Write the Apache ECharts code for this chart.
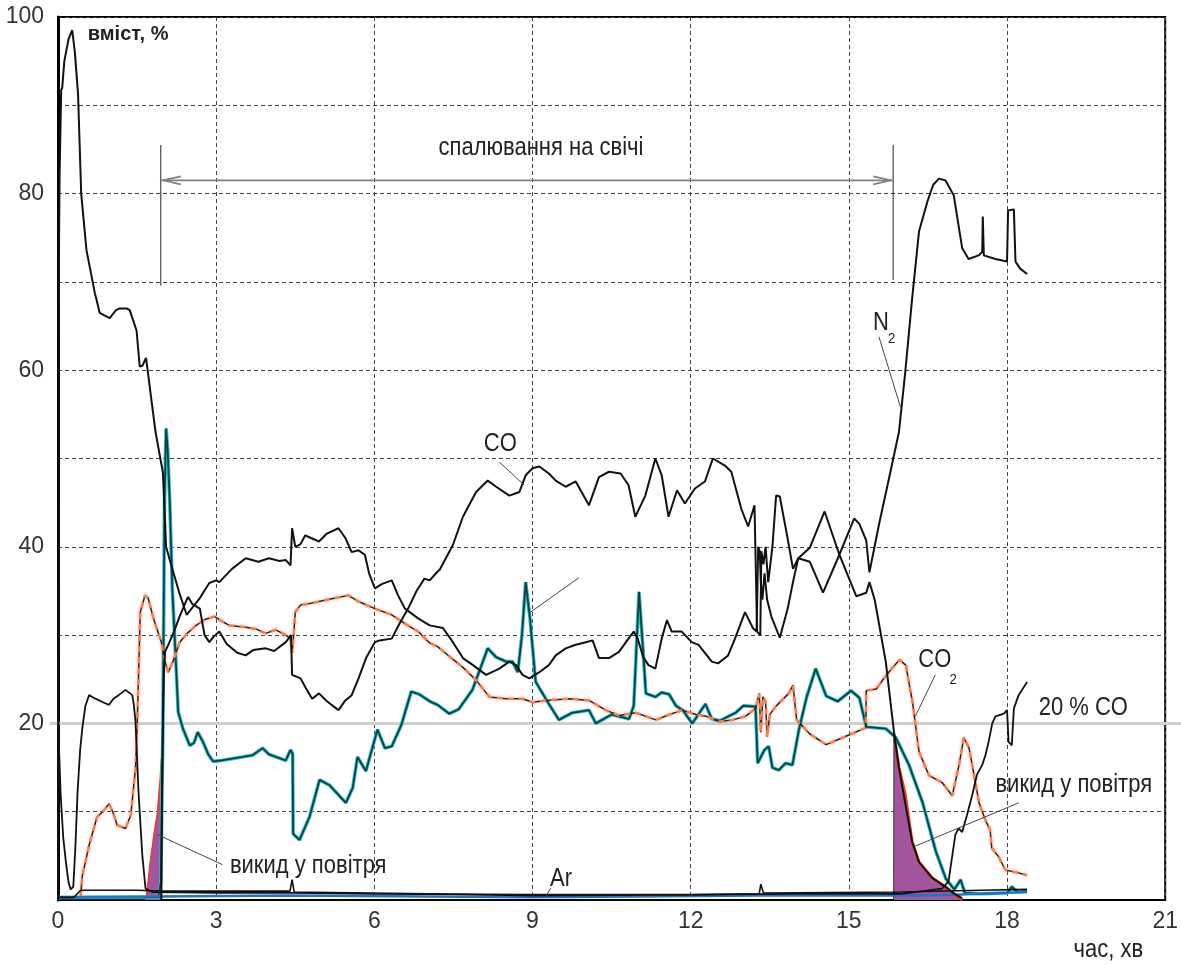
<!DOCTYPE html>
<html><head><meta charset="utf-8">
<script src="https://cdn.jsdelivr.net/npm/echarts@6/dist/echarts.min.js"></script>
<style>html,body{margin:0;padding:0;background:#fff}#c{width:1181px;height:965px}</style>
</head><body><div id="c"></div>
<script>
// ---- axes ----
const xTicks = [0, 3, 6, 9, 12, 15, 18, 21];
const yTickLabels = [20, 40, 60, 80, 100];

// ---- series: [time, min ; content, %] ----
const N2 = [[0,0],[0.01,40],[0.02,75],[0.03,82],[0.06,91.7],[0.08,92],[0.12,95],[0.2,97.5],[0.27,98.5],[0.32,96],[0.38,91.3],[0.44,80],[0.54,73.6],[0.7,68.7],[0.73,68],[0.79,66.5],[0.98,65.9],[1.1,66.8],[1.17,67],[1.3,67],[1.36,66.8],[1.49,64.5],[1.55,60.4],[1.6,60.5],[1.67,61.4],[1.74,58.1],[1.85,53],[1.99,48.4],[2.05,40],[2.12,38.5],[2.3,34.8],[2.44,32.3],[2.69,34.2],[2.87,35.9],[3.0,36.2],[3.06,36],[3.3,37.5],[3.56,38.7],[3.8,38.3],[4.0,38.7],[4.2,38.4],[4.32,38.5],[4.41,37.9],[4.44,42.1],[4.5,40],[4.6,40.3],[4.69,41.3],[4.8,41],[4.95,40.6],[5.1,41.5],[5.32,42.1],[5.45,41],[5.57,39.4],[5.7,39.6],[5.82,39.1],[5.9,37],[6.01,35.3],[6.15,35.8],[6.33,36.2],[6.45,34.5],[6.58,33],[6.83,31.9],[7.05,31.1],[7.3,30.8],[7.49,29.2],[7.68,27.4],[7.87,26.6],[8.12,25.5],[8.37,26.2],[8.56,27],[8.69,26.6],[8.81,25.5],[8.94,25.1],[9.13,25.8],[9.31,26.6],[9.44,27.7],[9.63,28.5],[9.82,28.9],[10.01,29.2],[10.14,29.4],[10.26,27.4],[10.45,27.4],[10.64,28.1],[10.82,29.6],[10.92,30.4],[11.0,29.5],[11.1,27.5],[11.2,26.6],[11.33,26.2],[11.45,29.6],[11.55,31.7],[11.64,30.4],[11.83,30.4],[12.02,29.2],[12.15,28.9],[12.4,27],[12.52,26.8],[12.71,27.7],[12.84,29.6],[13.03,32.6],[13.18,30.8],[13.25,30.4],[13.28,40],[13.31,39.5],[13.33,36],[13.36,34],[13.4,37],[13.45,34],[13.53,32.1],[13.69,29.7],[13.84,33],[13.94,36],[14.04,38.7],[14.26,39.9],[14.54,44],[14.82,39.1],[15.1,43.2],[15.2,42.6],[15.33,40.7],[15.39,37.1],[15.57,42.5],[15.76,47.7],[15.95,53],[16.07,59.8],[16.17,66.2],[16.2,68.1],[16.33,75.7],[16.49,79.1],[16.6,81],[16.71,81.7],[16.83,81.5],[16.99,79.8],[17.08,76.4],[17.15,73.8],[17.27,72.6],[17.46,73],[17.53,73.4],[17.54,77.4],[17.56,73],[17.78,72.6],[18.0,72.3],[18.02,78.1],[18.13,78.2],[18.16,72.3],[18.25,71.5],[18.38,70.9]];

const CO = [[1.96,0],[1.97,10],[1.99,20],[2.01,26],[2.03,28.1],[2.1,29],[2.2,30.4],[2.3,32],[2.44,34],[2.47,34.3],[2.55,33.5],[2.69,33],[2.78,30],[2.87,29.2],[2.95,29.8],[3.06,30.4],[3.2,29],[3.4,28],[3.56,27.7],[3.7,28.3],[3.94,28.5],[4.1,28.2],[4.32,29.2],[4.42,30],[4.44,25.5],[4.6,25.1],[4.7,24],[4.82,22.8],[4.95,23.4],[5.1,22.5],[5.32,21.5],[5.45,22.6],[5.57,23.2],[5.7,25.1],[5.85,27.5],[6.01,29.2],[6.1,29.4],[6.33,29.6],[6.45,31],[6.64,33],[6.8,35],[6.95,36.4],[7.05,36.2],[7.2,37.2],[7.24,37.4],[7.49,40.2],[7.68,43.4],[7.93,46.2],[8.15,47.5],[8.31,46.8],[8.56,45.8],[8.75,46.2],[8.87,48.1],[9.0,48.9],[9.13,49.1],[9.31,48.3],[9.44,47.5],[9.63,46.8],[9.82,47.4],[10.07,44.7],[10.26,47.9],[10.45,48.5],[10.67,48.3],[10.82,47],[10.95,43.4],[11.14,45.8],[11.33,50],[11.45,48.1],[11.58,43.4],[11.74,46.4],[11.89,44.9],[12.08,46.6],[12.27,47.4],[12.42,50],[12.65,49.2],[12.77,48.5],[12.96,44.3],[13.09,42.3],[13.21,44.7],[13.23,44.5],[13.26,30.4],[13.32,30],[13.34,39.5],[13.38,38],[13.42,40],[13.47,36],[13.55,40],[13.62,45.8],[13.69,45.7],[13.84,40.9],[13.94,37.5],[14.04,38.7],[14.26,38.3],[14.51,34.8],[14.82,39.1],[15.14,34.4],[15.33,34.8],[15.39,36],[15.49,34],[15.7,27],[15.86,18.8],[15.95,15],[16.08,10.6],[16.2,6.6],[16.33,4.3],[16.58,2.5],[16.83,1.5],[17.0,0.7],[17.15,0.2]];

const CO2 = [[0.43,0.5],[0.46,2.7],[0.59,6.2],[0.74,9.4],[0.85,10],[0.97,10.9],[1.05,9.8],[1.12,8.5],[1.28,8.1],[1.38,9.6],[1.47,14.9],[1.5,19.4],[1.56,32.6],[1.65,34.5],[1.71,34.2],[1.81,31.9],[1.96,29.2],[2.03,27],[2.09,25.8],[2.18,27],[2.31,29.2],[2.45,30.2],[2.62,31.1],[2.8,31.8],[2.97,32.1],[3.1,31.6],[3.25,31.1],[3.56,30.9],[3.75,30.7],[3.94,30.2],[4.13,30.6],[4.32,30],[4.41,29.6],[4.44,28],[4.47,30],[4.5,32.6],[4.6,33.4],[4.8,33.6],[4.95,33.8],[5.1,34],[5.26,34.2],[5.51,34.5],[5.7,33.8],[6.01,33],[6.33,32.3],[6.58,31.3],[6.83,30.4],[7.05,29.1],[7.2,28.7],[7.42,27.6],[7.67,26.4],[7.93,24.9],[8.18,23],[8.5,22.8],[8.81,22.8],[9.0,22.4],[9.25,22.6],[9.7,22.8],[10.07,22.6],[10.39,21.5],[10.64,20.9],[10.96,21.2],[11.34,20.4],[11.6,21],[11.84,21.5],[12.1,21],[12.3,20.8],[12.54,20.2],[12.8,20.4],[13.04,20.8],[13.23,21.7],[13.3,23.4],[13.33,19],[13.37,23],[13.42,22.5],[13.45,18.5],[13.5,21],[13.61,21.9],[13.86,23.4],[13.94,24.3],[14.01,20.4],[14.26,18.8],[14.57,17.6],[14.89,18.4],[15.2,19.2],[15.32,19.5],[15.33,23.7],[15.52,23.9],[15.7,25.4],[15.96,27.2],[16.08,26.6],[16.21,22.3],[16.33,16.8],[16.52,14.1],[16.77,13.3],[16.96,11.8],[17.09,15.3],[17.18,18.4],[17.28,17.2],[17.4,13.3],[17.47,11],[17.6,8.9],[17.68,7.9],[17.71,5.9],[17.84,4.9],[17.97,3.4],[18.2,3.1],[18.38,2.8]];

const H2 = [[0,0.3],[1.9,0.3],[1.95,2],[1.99,20],[2.02,45],[2.05,53.4],[2.08,51],[2.12,45.1],[2.17,35],[2.22,28.9],[2.28,21.3],[2.37,19.4],[2.5,17.5],[2.58,17.8],[2.65,19],[2.75,17.9],[2.85,16.5],[2.94,15.7],[3.1,15.8],[3.3,16],[3.5,16.2],[3.69,16.4],[3.88,17.2],[4.0,16.5],[4.32,15.8],[4.41,17],[4.45,16.6],[4.46,7.5],[4.58,6.8],[4.77,9.4],[4.96,13.6],[5.15,13],[5.46,11],[5.59,12.7],[5.68,16.2],[5.84,14.6],[6.06,19.3],[6.2,17.2],[6.33,17.4],[6.51,19.8],[6.7,23.6],[6.85,23.3],[7.05,22.5],[7.2,22.1],[7.42,21.1],[7.6,21.6],[7.86,23.8],[8.15,28.5],[8.31,27.5],[8.5,27],[8.62,27],[8.72,25.8],[8.8,30],[8.87,36],[8.95,32],[9.06,24.7],[9.25,22.8],[9.5,20.4],[9.75,21.2],[10.07,21.5],[10.2,20],[10.5,21],[10.83,20.5],[10.92,22],[11.02,34.9],[11.1,28],[11.15,23.4],[11.33,23],[11.45,23.5],[11.59,23.3],[11.72,22],[11.85,21.5],[12.03,20],[12.28,22.2],[12.4,20.5],[12.55,20.3],[12.85,21.2],[13.0,22],[13.23,21.9],[13.27,15.5],[13.4,17],[13.48,17.4],[13.55,15],[13.67,14.7],[13.8,15.5],[13.93,15.3],[14.05,19.2],[14.2,23],[14.37,26.2],[14.57,23.1],[14.79,22.5],[15.04,23.7],[15.2,22.9],[15.33,19.6],[15.7,19.4],[15.89,18.4],[16.14,15.3],[16.4,11],[16.65,5.5],[16.84,2.4],[17.0,1.2],[17.12,2.3],[17.2,0.8],[17.5,0.7],[18.0,0.8],[18.09,1.5],[18.2,0.9],[18.38,1]];

const O2 = [[0.0,21.9],[0.02,17],[0.05,12],[0.1,7],[0.15,4.3],[0.2,2],[0.24,1.2],[0.29,1.5],[0.33,6],[0.37,12.1],[0.42,17],[0.46,19.4],[0.52,22],[0.59,23.2],[0.71,22.8],[0.85,22.4],[0.97,22.1],[1.05,22.8],[1.15,23.2],[1.28,23.8],[1.41,23.2],[1.44,22],[1.47,20.2],[1.53,11.9],[1.6,5],[1.66,1.3],[1.79,0.9],[3,0.8],[4.4,0.8],[6,0.7],[9,0.6],[12,0.6],[14,0.7],[16,0.7],[16.77,1.3],[16.89,2.1],[17.02,7.4],[17.08,8.1],[17.15,7.7],[17.24,9.6],[17.34,11.9],[17.43,14.2],[17.53,15.3],[17.59,16.4],[17.65,17.9],[17.72,20],[17.78,20.8],[17.94,21.1],[18.0,21.5],[18.03,17.9],[18.09,17.5],[18.13,21.7],[18.22,23.2],[18.38,24.7]];

const OTHER = [[0,0.3],[0.3,0.3],[0.43,1.1],[1.5,1.1],[2,1],[4.4,1],[4.44,2.3],[4.48,0.9],[7,0.7],[9,0.5],[12,0.6],[13.3,0.7],[13.33,1.8],[13.38,0.8],[16,0.9],[17.5,1.1],[18.38,1.2]];

const AR = [[0,0.2],[0.3,0.3],[1.9,0.4],[4.4,0.5],[9,0.3],[11,0.4],[13.3,0.5],[16,0.5],[17,0.6],[18.38,0.9]];

// emission to air (shaded)
const EMIT1 = [[1.67,0],[1.75,4.3],[1.82,7.4],[1.88,9.6],[1.94,13.8],[1.96,16],[1.961,0]];
const EMIT2 = [[15.85,0],[15.855,18.8],[15.95,15],[16.07,11.9],[16.2,6.6],[16.33,4.3],[16.58,2.5],[16.83,1.5],[17.0,0.7],[17.15,0]];

// annotation texts (data coordinates)
const LABELS = [
  {text:'вміст, %', t:0.565, v:98, align:'left', size:20, bold:true, sx:1},
  {text:'спалювання на свічі', t:9.16, v:85.2, align:'center'},
  {text:'N', t:15.61, v:65.3, align:'center'},
  {text:'2', t:15.81, v:63.6, align:'center', size:15},
  {text:'CO', t:8.39, v:51.6, align:'center'},
  {text:'CO', t:16.63, v:27.2, align:'center'},
  {text:'2', t:16.98, v:24.9, align:'center', size:15},
  {text:'20 % CO', t:18.6, v:21.7, align:'left'},
  {text:'викид у повітря', t:3.26, v:3.85, align:'left'},
  {text:'викид у повітря', t:17.78, v:13.0, align:'left'},
  {text:'Ar', t:9.54, v:2.4, align:'center'},
  {text:'час, хв', t:19.92, v:-5.7, align:'center'}
];
// pointer lines (data coordinates)
const POINTERS = [
  [[15.57,63.8],[15.98,55.8]],
  [[8.37,49.6],[8.84,47]],
  [[16.64,25.5],[16.26,20.8]],
  [[9.88,36.5],[8.94,32.5]],
  [[1.89,7.4],[3.12,4.0]],
  [[18.22,11],[16.26,6.1]],
  [[9.35,1.36],[9.24,0.34]]
];
const FLARE = {t1:1.95, t2:15.84, vTop:85.5, vBot1:69.6, vBot2:70.2, vArrow:81.5};
const REF_LINE = {v:20, t1:-0.16, t2:21.3};

const FONT = "'Liberation Sans', Arial, sans-serif";
const chart = echarts.init(document.getElementById('c'), null, {renderer:'canvas'});

function blackLine(name, data, w, z) {
  return {name, type:'line', data, showSymbol:false, symbol:'none', animation:false, z: z||5,
    lineStyle:{color:'#111', width:w}};
}

chart.setOption({
  animation:false,
  backgroundColor:'#fff',
  grid:{left:58, right:15, top:17, bottom:65, show:true, borderColor:'#000', borderWidth:2, backgroundColor:'transparent'},
  xAxis:{type:'value', min:0, max:21, interval:3,
    axisLine:{show:true, onZero:false, lineStyle:{color:'#000', width:2}},
    axisTick:{show:false},
    axisLabel:{fontSize:23, color:'#333', margin:10, fontFamily:FONT,
      formatter: v => xTicks.includes(v) ? String(v) : ''},
    splitLine:{show:true, lineStyle:{color:'#444', width:1, type:[4,3]}}},
  yAxis:{type:'value', min:0, max:100, interval:10,
    axisLine:{show:true, onZero:false, lineStyle:{color:'#000', width:3}},
    axisTick:{show:false},
    axisLabel:{fontSize:23, color:'#333', margin:14, fontFamily:FONT,
      formatter: v => yTickLabels.includes(v) ? String(v) : ''},
    splitLine:{show:true, lineStyle:{color:'#444', width:1, type:[4,3]}}},
  series:[
    {name:'викид1', type:'line', data:EMIT1, showSymbol:false, symbol:'none', z:3,
      lineStyle:{width:0}, areaStyle:{color:'#a3559f', opacity:1}},
    {name:'викид2', type:'line', data:EMIT2, showSymbol:false, symbol:'none', z:3,
      lineStyle:{width:0}, areaStyle:{color:'#a3559f', opacity:1}},
    {name:'edge1', type:'line', data:EMIT1.slice(0,6), showSymbol:false, symbol:'none', z:4,
      lineStyle:{color:'#ee3b1f', width:1.5}},
    {name:'edge2', type:'line', data:EMIT2.slice(1), showSymbol:false, symbol:'none', z:4,
      lineStyle:{color:'#ee3b1f', width:3}},
    {name:'edge2v', type:'line', data:EMIT2.slice(0,2), showSymbol:false, symbol:'none', z:4,
      lineStyle:{color:'#333', width:1}},
    {name:'H2 halo', type:'line', data:H2, showSymbol:false, symbol:'none', z:5,
      lineStyle:{color:'#22c3d6', width:3.6}},
    {name:'H2', type:'line', data:H2, showSymbol:false, symbol:'none', z:6,
      lineStyle:{color:'#163f3a', width:1.8}},
    {name:'CO2 halo', type:'line', data:CO2, showSymbol:false, symbol:'none', z:5,
      lineStyle:{color:'#f6a080', width:6, opacity:0.18}},
    {name:'CO2', type:'line', data:CO2, showSymbol:false, symbol:'none', z:6,
      lineStyle:{color:'#222', width:1.5}},
    {name:'CO2 dash', type:'line', data:CO2, showSymbol:false, symbol:'none', z:7,
      lineStyle:{color:'#f47f50', width:2.6, type:[6,5]}},
    {name:'Ar', type:'line', data:AR, showSymbol:false, symbol:'none', z:6,
      lineStyle:{color:'#1f74c8', width:2.5}},
    blackLine('other', OTHER, 1.6, 7),
    blackLine('O2', O2, 1.8, 8),
    blackLine('N2', N2, 2, 9),
    blackLine('CO', CO, 2, 9)
  ]
});

function px(t, v) { return chart.convertToPixel({gridIndex:0}, [t, v]); }

const g = [];
const r1 = px(REF_LINE.t1, REF_LINE.v), r2 = px(REF_LINE.t2, REF_LINE.v);
g.push({type:'line', z:1, shape:{x1:r1[0], y1:r1[1], x2:r2[0], y2:r2[1]}, style:{stroke:'#cfcfcf', lineWidth:3}});
const a = px(FLARE.t1, FLARE.vTop), b = px(FLARE.t1, FLARE.vBot1);
const c = px(FLARE.t2, FLARE.vTop), d = px(FLARE.t2, FLARE.vBot2);
g.push({type:'line', z:50, shape:{x1:a[0], y1:a[1], x2:b[0], y2:b[1]}, style:{stroke:'#222', lineWidth:1}});
g.push({type:'line', z:50, shape:{x1:c[0], y1:c[1], x2:d[0], y2:d[1]}, style:{stroke:'#222', lineWidth:1}});
const l = px(FLARE.t1, FLARE.vArrow), r = px(FLARE.t2, FLARE.vArrow);
g.push({type:'line', z:50, shape:{x1:l[0]+1, y1:l[1], x2:r[0]-1, y2:r[1]}, style:{stroke:'#808080', lineWidth:1.6}});
g.push({type:'polyline', z:50, shape:{points:[[l[0]+20,l[1]-4],[l[0]+2,l[1]],[l[0]+20,l[1]+4]]}, style:{stroke:'#808080', lineWidth:1.6, fill:null}});
g.push({type:'polyline', z:50, shape:{points:[[r[0]-20,r[1]-4],[r[0]-2,r[1]],[r[0]-20,r[1]+4]]}, style:{stroke:'#808080', lineWidth:1.6, fill:null}});
POINTERS.forEach(p => {
  const p1 = px(p[0][0], p[0][1]), p2 = px(p[1][0], p[1][1]);
  g.push({type:'line', z:50, shape:{x1:p1[0], y1:p1[1], x2:p2[0], y2:p2[1]}, style:{stroke:'#444', lineWidth:1}});
});
LABELS.forEach(L => {
  const p = px(L.t, L.v);
  g.push({type:'text', z:60, x:p[0], y:p[1], scaleX: (L.sx != null ? L.sx : 0.88),
    style:{text:L.text, fill:'#222', fontSize:L.size || 25, fontWeight: L.bold ? 'bold' : 'normal',
      fontFamily:FONT, align:L.align, textAlign:L.align, verticalAlign:'middle', textVerticalAlign:'middle'}});
});
chart.setOption({graphic:g});
</script>
</body></html>
